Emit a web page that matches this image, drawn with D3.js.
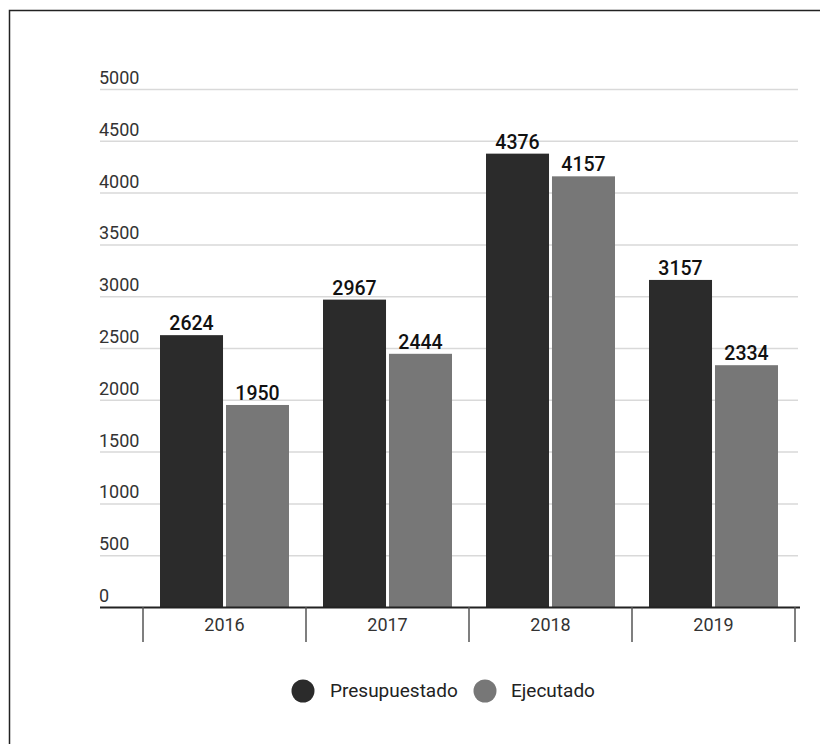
<!DOCTYPE html>
<html><head><meta charset="utf-8">
<script src="https://cdn.jsdelivr.net/npm/d3@7"></script>
<style>body{margin:0;background:#fff;font-family:Roboto,"Noto Sans",sans-serif;}</style>
</head><body><svg id="c" width="820" height="744"></svg>
<script>
const categories = ["2016","2017","2018","2019"];
const seriesNames = ["Presupuestado","Ejecutado"];
const presupuestado = [2624,2967,4376,3157];
const ejecutado = [1950,2444,4157,2334];
const yTicks = [0,500,1000,1500,2000,2500,3000,3500,4000,4500,5000];
const colors = ["#2b2b2b","#777777"];

(function(){
const svg = d3.select("#c");
svg.append("rect").attr("x",9.5).attr("y",10.5).attr("width",830).attr("height",760)
  .attr("fill","none").attr("stroke","#222").attr("stroke-width",1.5);

const pLeft=100, pRight=798, pTop=89, pBottom=607;
const y = d3.scaleLinear().domain([0,5000]).range([pBottom,pTop]);
const x0 = d3.scaleBand().domain(categories).range([143,795]).paddingInner(0).paddingOuter(0);
const x1 = d3.scaleBand().domain(seriesNames).range([17, x0.bandwidth()-17]).paddingInner(0.045);

const g = svg.append("g");
g.selectAll("line.grid").data(yTicks.filter(d=>d>0)).enter().append("line")
  .attr("x1",pLeft).attr("x2",pRight).attr("y1",d=>y(d)+0.5).attr("y2",d=>y(d)+0.5)
  .attr("stroke","#d9d9d9").attr("stroke-width",1.5);
g.selectAll("text.yl").data(yTicks).enter().append("text")
  .attr("x",99).attr("y",d=>y(d)-5).attr("font-size",18).attr("font-weight",400).attr("fill","#333")
  .text(d=>d);

const data = categories.map((c,i)=>({cat:c, vals:[presupuestado[i],ejecutado[i]]}));
const grp = svg.selectAll("g.cat").data(data).enter().append("g")
  .attr("transform",d=>`translate(${x0(d.cat)},0)`);
grp.selectAll("rect").data(d=>d.vals.map((v,j)=>({v,s:seriesNames[j],j}))).enter().append("rect")
  .attr("x",d=>x1(d.s)).attr("width",x1.bandwidth())
  .attr("y",d=>y(d.v)).attr("height",d=>pBottom-y(d.v))
  .attr("fill",d=>colors[d.j]);
grp.selectAll("text").data(d=>d.vals.map((v,j)=>({v,s:seriesNames[j],j}))).enter().append("text")
  .attr("x",d=>x1(d.s)+x1.bandwidth()/2).attr("y",d=>y(d.v)-5)
  .attr("text-anchor","middle").attr("font-size",19.5).attr("font-weight",500).attr("fill","#111")
  .text(d=>d.v);

const xa = d3.axisBottom(x0).tickSize(0).tickPadding(11);
const ax = svg.append("g").attr("transform",`translate(0,${pBottom})`).call(xa);
ax.select(".domain").remove();
ax.selectAll("text").attr("font-size",18).attr("font-weight",400).attr("fill","#333").attr("font-family","Roboto,sans-serif");
svg.append("line").attr("x1",pLeft).attr("x2",pRight+2).attr("y1",pBottom+0.5).attr("y2",pBottom+0.5)
  .attr("stroke","#222").attr("stroke-width",2);
const tickX = categories.map(c=>x0(c)).concat([x0(categories[categories.length-1])+x0.bandwidth()]);
svg.selectAll("line.tk").data(tickX).enter().append("line")
  .attr("x1",d=>d).attr("x2",d=>d).attr("y1",pBottom).attr("y2",642)
  .attr("stroke","#555").attr("stroke-width",1.5);

const leg = svg.append("g");
const legItems = [{n:seriesNames[0],cx:303,tx:330},{n:seriesNames[1],cx:485,tx:511}];
legItems.forEach((d,i)=>{
  leg.append("circle").attr("cx",d.cx).attr("cy",691).attr("r",11.5).attr("fill",colors[i]);
  leg.append("text").attr("x",d.tx).attr("y",697).attr("font-size",19).attr("font-weight",400).attr("fill","#222").text(d.n);
});
})();
</script></body></html>
